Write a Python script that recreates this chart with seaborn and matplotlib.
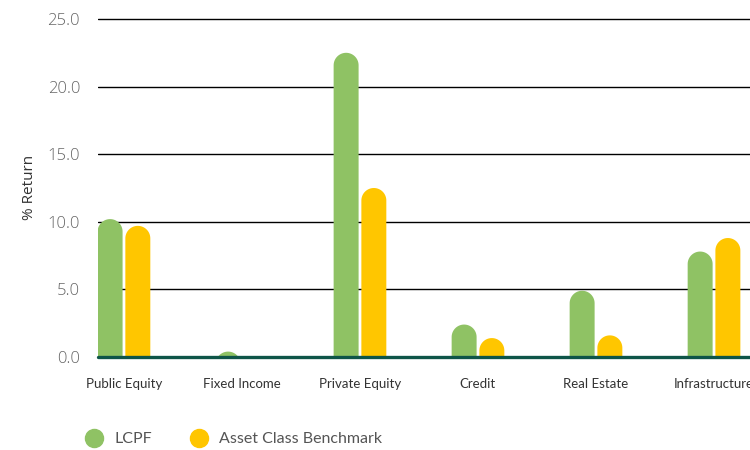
import numpy as np
import pandas as pd
import matplotlib
matplotlib.use("Agg")
import matplotlib.pyplot as plt
from matplotlib.path import Path
from matplotlib.patches import PathPatch
from matplotlib.lines import Line2D
import seaborn as sns

# Returns by asset class (%)
categories = ["Public Equity", "Fixed Income", "Private Equity", "Credit",
              "Real Estate", "Infrastructure"]
lcpf = [10.2, 0.4, 22.5, 2.4, 4.9, 7.8]
benchmark = [9.7, 0.0, 12.5, 1.4, 1.6, 8.8]
series = ["LCPF", "Asset Class Benchmark"]
colors = ["#8fc264", "#ffc600"]
y_ticks = [0, 5, 10, 15, 20, 25]

df = pd.DataFrame({
    "category": categories * 2,
    "value": lcpf + benchmark,
    "series": [series[0]] * len(categories) + [series[1]] * len(categories),
})

sns.set_theme(style="white")
plt.rcParams["font.family"] = ["Lato", "DejaVu Sans"]

fig = plt.figure(figsize=(7.5, 4.5), dpi=100)
ymax = 25.1
ax = fig.add_axes([98 / 750, 93 / 450, 652 / 750, (338 + 0.1 * 13.52) / 450])

sns.barplot(data=df, x="category", y="value", hue="series", palette=colors,
            width=0.47, gap=0.1, saturation=1, legend=False, ax=ax)
ax.set_xlim(-0.22, 5.305)
ax.set_ylim(0, ymax)

# Replace the flat bar tops with rounded caps
fig.canvas.draw()
p0 = ax.transData.transform((0, 0))
p1 = ax.transData.transform((1, 1))
sx, sy = p1[0] - p0[0], p1[1] - p0[1]
for rect in list(ax.patches):
    x0, w, h = rect.get_x(), rect.get_width(), rect.get_height()
    if h <= 0:
        rect.remove()
        continue
    col = rect.get_facecolor()
    rx = w / 2
    ry = rx * sx / sy
    cx = x0 + rx
    base = h - ry
    bot = min(0, base) - 1
    t = np.linspace(0, np.pi, 40)
    arc = np.column_stack([cx + rx * np.cos(t), base + ry * np.sin(t)])
    verts = np.vstack([[x0, bot], [x0 + w, bot], [x0 + w, base], arc, [x0, bot]])
    codes = [Path.MOVETO] + [Path.LINETO] * (len(verts) - 2) + [Path.CLOSEPOLY]
    patch = PathPatch(Path(verts, codes), facecolor=col, edgecolor="none", zorder=3)
    rect.remove()
    ax.add_patch(patch)

# Grid and baseline
ax.set_yticks(y_ticks)
ax.yaxis.grid(True, color="black", linewidth=1)
ax.xaxis.grid(False)
ax.set_axisbelow(True)
ax.axhline(0, color="#0e5548", linewidth=2.4, zorder=5, clip_on=False)
for s in ax.spines.values():
    s.set_visible(False)

ax.set_yticklabels([f"{v:.1f}" for v in y_ticks], fontfamily="Open Sans",
                   fontweight="light", fontsize=12, color="#666666")
ax.tick_params(axis="y", length=0, pad=13)
ax.tick_params(axis="x", length=0, pad=15, labelsize=9.5, labelcolor="#333333")
ax.set_xlabel("")
ax.set_ylabel("% Return", fontfamily="Open Sans", fontsize=11, color="#333333")
ax.yaxis.set_label_coords(-0.094, 0.5)

handles = [Line2D([], [], marker="o", linestyle="", markersize=13, color=c) for c in colors]
fig.legend(handles, series, loc="center left", bbox_to_anchor=(70 / 750, 11 / 450),
           ncol=2, frameon=False, fontsize=11.5, labelcolor="#555555",
           handletextpad=0.3, columnspacing=1.9, borderpad=0)

fig.savefig("out.png", dpi=100)
